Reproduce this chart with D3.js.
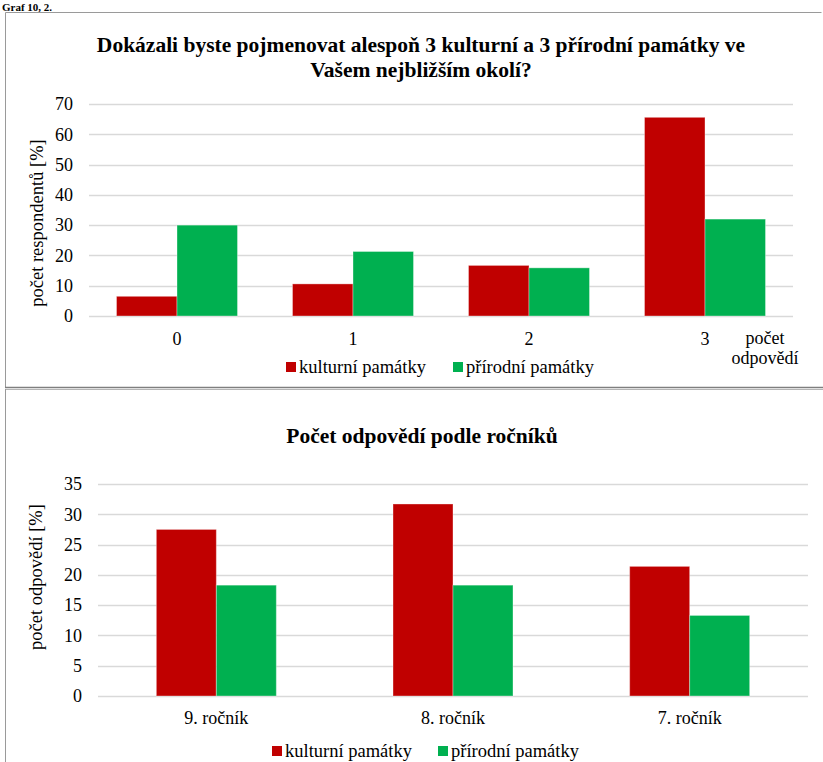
<!DOCTYPE html>
<html>
<head>
<meta charset="utf-8">
<script src="https://cdn.jsdelivr.net/npm/d3@7"></script>
<style>
  html, body { margin: 0; padding: 0; background: #fff; }
  svg { display: block; }
  text { font-family: "Liberation Serif", "Times New Roman", serif; fill: #000; }
</style>
</head>
<body>
<svg id="fig" width="823" height="762"></svg>
<script>
// Chart 1: how many monuments respondents could name
const answerCounts = ["0", "1", "2", "3"];
const culturalByCount = [6.5, 10.6, 16.7, 65.6];
const naturalByCount = [30.0, 21.3, 15.9, 32.0];
const ticks1 = [0, 10, 20, 30, 40, 50, 60, 70];

// Chart 2: answers by school year
const grades = ["9. ročník", "8. ročník", "7. ročník"];
const culturalByGrade = [27.5, 31.7, 21.4];
const naturalByGrade = [18.3, 18.3, 13.3];
const ticks2 = [0, 5, 10, 15, 20, 25, 30, 35];

const seriesNames = ["kulturní památky", "přírodní památky"];
const seriesColors = ["#C00000", "#00B050"];

const svg = d3.select("#fig");

// caption above the frames
svg.append("text").attr("x", 2).attr("y", 10.5)
  .style("font-weight", "bold").style("font-size", "11px")
  .text("Graf 10, 2.");

// frames
svg.append("path").attr("d", "M5.5,12.5H821.5M5.5,12.5V387.5")
  .attr("fill", "none").attr("stroke", "#9a9a9a");
svg.append("line").attr("x1", 5).attr("x2", 823).attr("y1", 387.5).attr("y2", 387.5)
  .attr("stroke", "#7f7f7f").attr("stroke-width", 1.5);
svg.append("line").attr("x1", 5).attr("x2", 823).attr("y1", 389.5).attr("y2", 389.5)
  .attr("stroke", "#b5b5b5").attr("stroke-width", 1);
svg.append("line").attr("x1", 5.5).attr("x2", 5.5).attr("y1", 389).attr("y2", 762)
  .attr("stroke", "#9a9a9a");

function drawChart(cfg) {
  const g = svg.append("g");
  const y = d3.scaleLinear().domain([0, cfg.max]).range([cfg.y0, cfg.y1]);
  const x = d3.scaleBand().domain(cfg.cats).range([cfg.x0, cfg.x1])
    .paddingInner(cfg.padIn).paddingOuter(cfg.padIn / 2);
  const xs = d3.scaleBand().domain(seriesNames).range([0, x.bandwidth()]);

  // gridlines
  g.append("g").selectAll("line").data(cfg.ticks).join("line")
    .attr("x1", cfg.x0).attr("x2", cfg.x1)
    .attr("y1", d => Math.round(y(d)) + 0.5).attr("y2", d => Math.round(y(d)) + 0.5)
    .attr("stroke", "#d9d9d9").attr("stroke-width", 1.5);

  // y axis labels
  const ya = d3.axisLeft(y).tickValues(cfg.ticks).tickSize(0).tickPadding(0);
  const yg = g.append("g").attr("transform", `translate(${cfg.yLabelX},0)`).call(ya);
  yg.select(".domain").remove();
  yg.selectAll("text").style("font-size", "18px").style("font-family", "Liberation Serif").attr("fill", "#000");

  // bars
  const rows = cfg.cats.map((c, i) => ({ cat: c, vals: [cfg.a[i], cfg.b[i]] }));
  g.append("g").selectAll("g").data(rows).join("g")
    .attr("transform", d => `translate(${x(d.cat)},0)`)
    .selectAll("rect").data(d => d.vals.map((v, k) => ({ v, k })))
    .join("rect")
    .attr("x", d => xs(seriesNames[d.k]))
    .attr("width", xs.bandwidth())
    .attr("y", d => y(d.v))
    .attr("height", d => y(0) - y(d.v))
    .attr("fill", d => seriesColors[d.k])
    .attr("stroke", "rgba(255,255,255,0.35)").attr("stroke-width", 1);

  // category labels
  const xa = d3.axisBottom(x).tickSize(0).tickPadding(0);
  const xg = g.append("g").attr("transform", `translate(0,${cfg.xLabelY})`).call(xa);
  xg.select(".domain").remove();
  xg.selectAll("text").attr("dy", 0).style("font-size", "18px").style("font-family", "Liberation Serif").attr("fill", "#000");

  // title
  const t = g.append("text").attr("text-anchor", "middle")
    .style("font-weight", "bold").style("font-size", "21.5px");
  cfg.title.forEach((line, i) => {
    t.append("tspan").attr("x", cfg.titleX).attr("y", cfg.titleY + i * 25).text(line);
  });

  // y axis title
  g.append("text").attr("text-anchor", "middle").style("font-size", "18.5px")
    .attr("transform", `translate(${cfg.yTitleX},${cfg.yTitleY}) rotate(-90)`)
    .text(cfg.yTitle);

  // legend
  const lg = g.append("g");
  seriesNames.forEach((s, k) => {
    const lx = cfg.legendX[k];
    lg.append("rect").attr("x", lx).attr("y", cfg.legendY - 11).attr("width", 10).attr("height", 10)
      .attr("fill", seriesColors[k]);
    lg.append("text").attr("x", lx + 13).attr("y", cfg.legendY).style("font-size", "18.5px").text(s);
  });
  return { x, y, g };
}

const c1 = drawChart({
  cats: answerCounts, a: culturalByCount, b: naturalByCount, ticks: ticks1, max: 70,
  x0: 89, x1: 793, y0: 316, y1: 104, padIn: 0.3125,
  yLabelX: 73, xLabelY: 345,
  title: ["Dokázali byste pojmenovat alespoň 3 kulturní a 3 přírodní památky ve", "Vašem nejbližším okolí?"],
  titleX: 421, titleY: 52,
  yTitle: "počet respondentů [%]", yTitleX: 43, yTitleY: 223,
  legendX: [286, 453], legendY: 373
});

// axis name beside the last category
const axName = c1.g.append("text").attr("text-anchor", "middle").style("font-size", "18px");
axName.append("tspan").attr("x", 765).attr("y", 344).text("počet");
axName.append("tspan").attr("x", 765).attr("y", 364).text("odpovědí");

drawChart({
  cats: grades, a: culturalByGrade, b: naturalByGrade, ticks: ticks2, max: 35,
  x0: 98, x1: 808, y0: 696, y1: 484, padIn: 0.493,
  yLabelX: 82, xLabelY: 724,
  title: ["Počet odpovědí podle ročníků"],
  titleX: 422, titleY: 443,
  yTitle: "počet odpovědí [%]", yTitleX: 42, yTitleY: 577,
  legendX: [272, 438], legendY: 757
});
</script>
</body>
</html>
